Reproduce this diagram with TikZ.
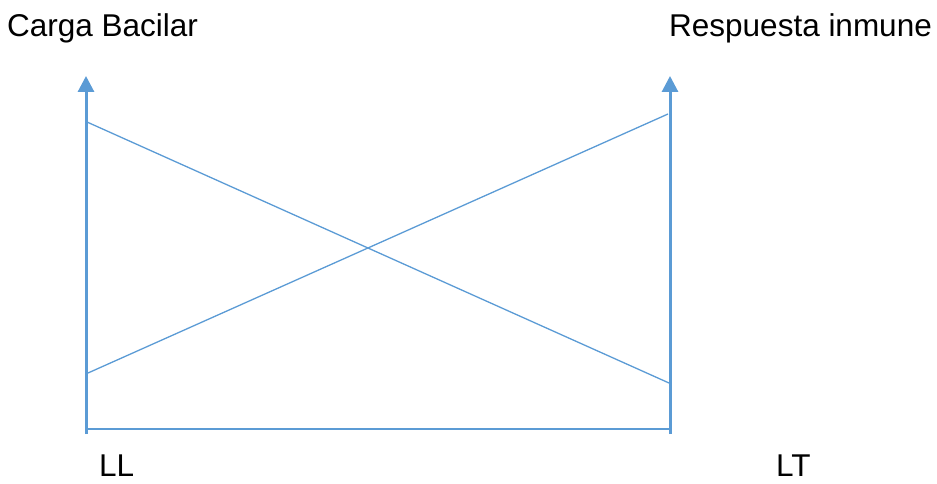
\documentclass[tikz,border=0pt]{standalone}
\usepackage{fontspec}
\setmainfont{Liberation Sans}
\usetikzlibrary{arrows.meta,positioning}
\definecolor{lineblue}{RGB}{91,155,213}

\begin{document}
\begin{tikzpicture}[x=1pt,y=1pt,>={Triangle[length=16pt,width=16pt]},
  axis/.style={->,draw=lineblue,line width=3pt},
  trend/.style={draw=lineblue,line width=1.3pt},
  lbl/.style={anchor=base west,inner sep=0pt,font=\fontsize{31.5}{36}\selectfont}]
\useasboundingbox (0,0) rectangle (937,483);
\coordinate (lb) at (86,49);
\coordinate (lt) at (86,407);
\coordinate (rb) at (670,49);
\coordinate (rt) at (670,407);
\coordinate (bl) at (85,54);
\coordinate (br) at (672,54);
\draw[axis] (lb) -- (lt);
\draw[axis] (rb) -- (rt);
\draw[trend,line width=1.6pt] (bl) -- (br);
% curves crossing
\draw[trend] (87,361) -- (669,100);
\draw[trend] (88,110) -- (668,369);
\node[lbl] (carga) at (7,446) {Carga Bacilar};
\node[lbl] (resp) at (669,446) {Respuesta inmune};
\node[lbl] (ll) at (99,7) {LL};
\node[lbl] (ltx) at (776,7) {LT};
\end{tikzpicture}
\end{document}
